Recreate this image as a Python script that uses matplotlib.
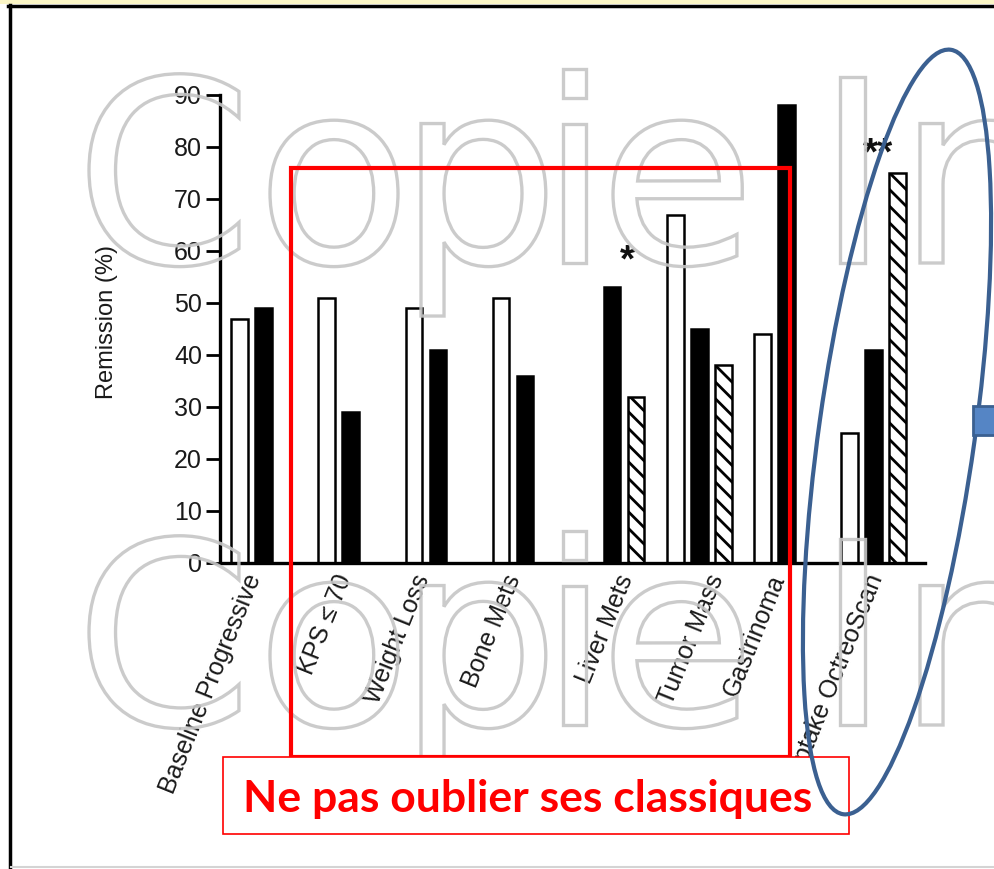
import numpy as np
import matplotlib
matplotlib.use('Agg')
import matplotlib.pyplot as plt
from matplotlib.patches import Rectangle, Ellipse, PathPatch
from matplotlib.textpath import TextPath
from matplotlib.transforms import Affine2D
from matplotlib.font_manager import FontProperties

plt.rcParams['font.family'] = ['Liberation Sans', 'DejaVu Sans']
plt.rcParams['hatch.linewidth'] = 2.0

# Remission rates (%) per subgroup
categories = ['Baseline Progressive', 'KPS \u2264 70', 'Weight Loss', 'Bone Mets',
              'Liver Mets', 'Tumor Mass', 'Gastrinoma', 'Uptake OctreoScan']
open_vals = [47, 51, 49, 51, np.nan, 67, 44, 25]
solid_vals = [49, 29, 41, 36, 53, 45, 88, 41]
hatched_vals = [np.nan, np.nan, np.nan, np.nan, 32, 38, np.nan, 75]
y_ticks = [0, 10, 20, 30, 40, 50, 60, 70, 80, 90]

# significance marks: (x in group units, y in %, text)
stars = [(4.18, 58, '*'), (7.05, 78.5, '**')]

banner_text = 'Ne pas oublier ses classiques'
watermark = 'Copie In'
wm_lefts = [89, 270, 421, 563, 613, 840, 920]   # left edge of each glyph, px

W, H = 994, 869
fig = plt.figure(figsize=(W / 100, H / 100), dpi=100)
fig.patch.set_facecolor('white')

ax = fig.add_axes([220 / W, (H - 563) / H, 705 / W, 468 / H])
x = np.arange(len(categories))
slot = 0.275
bw = 0.19

for vals, dx, fc, hatch in [(open_vals, -slot, 'white', None),
                            (solid_vals, 0.0, 'black', None),
                            (hatched_vals, slot, 'white', '\\\\')]:
    v = np.array(vals, dtype=float)
    m = ~np.isnan(v)
    ax.bar(x[m] + dx, v[m], bw, color=fc, edgecolor='black', linewidth=1.8,
           hatch=hatch, zorder=2)

for sx, sy, s in stars:
    ax.text(sx, sy, s, ha='center', va='center', fontsize=28,
            fontweight='bold', color='#111111')

ax.set_xlim(-0.5, 7.59)
ax.set_ylim(0, 90)
ax.set_yticks(y_ticks)
ax.tick_params(axis='y', length=10, width=2, pad=3, labelsize=18, labelcolor='#1a1a1a')
nudge = [-0.10, -0.07, -0.17, -0.12, 0.17, 0.21, -0.09, 0.03]
ax.set_xticks(x + np.array(nudge))
ax.set_xticklabels(categories, rotation=68, ha='right', va='center',
                   rotation_mode='anchor', fontsize=18, color='#1a1a1a')
ax.tick_params(axis='x', length=0, pad=9)
ax.set_ylabel('Remission (%)', fontsize=17, color='#1a1a1a')
ax.yaxis.set_label_coords(-0.145, 0.515)
for side in ['top', 'right']:
    ax.spines[side].set_visible(False)
for side in ['left', 'bottom']:
    ax.spines[side].set_linewidth(2.4)

# slide overlay in pixel coordinates (y up)
ov = fig.add_axes([0, 0, 1, 1], zorder=10)
ov.set_xlim(0, W)
ov.set_ylim(0, H)
ov.axis('off')
ov.patch.set_alpha(0)

# outlined watermark, two lines, glyph by glyph
wm_font = FontProperties(family='DejaVu Sans')
glyphs = [c for c in watermark if c != ' ']
for base in [H - 263, H - 725]:
    for ch, left in zip(glyphs, wm_lefts):
        tp = TextPath((0, 0), ch, size=255, prop=wm_font)
        x0 = tp.get_extents().x0
        tp = tp.transformed(Affine2D().translate(left - x0, base))
        ov.add_patch(PathPatch(tp, facecolor='none', edgecolor='#c6c6c6',
                               lw=2.4, alpha=0.9))

# red highlight frame
ov.add_patch(Rectangle((291, H - 757), 499, 589, fill=False, edgecolor='#ff0000', lw=3))

# banner box
ov.add_patch(Rectangle((223, H - 834), 626, 77, facecolor='white', edgecolor='#ff0000', lw=1.2))
ov.text(528, H - 812, banner_text, ha='center', va='baseline', fontsize=32,
        fontweight='bold', color='#ff0000', family='Lato')

# blue ellipse around the OctreoScan group
ov.add_patch(Ellipse((897, H - 432), 772, 156, angle=82, fill=False,
                     edgecolor='#3b6091', lw=3))
ov.add_patch(Rectangle((973, H - 435), 30, 29, facecolor='#5585c5',
                       edgecolor='#3b6091', lw=2))

# slide borders
ov.add_patch(Rectangle((0, H - 4), W, 4, facecolor='#fbf6c6', edgecolor='none'))
ov.plot([8, W], [H - 6, H - 6], color='black', lw=2.5)
ov.plot([10, 10], [0, H - 5], color='black', lw=2.5)
ov.plot([11, W], [2, 2], color='#d4d4d4', lw=1.5)

fig.savefig('out.png', dpi=100, facecolor='white')
